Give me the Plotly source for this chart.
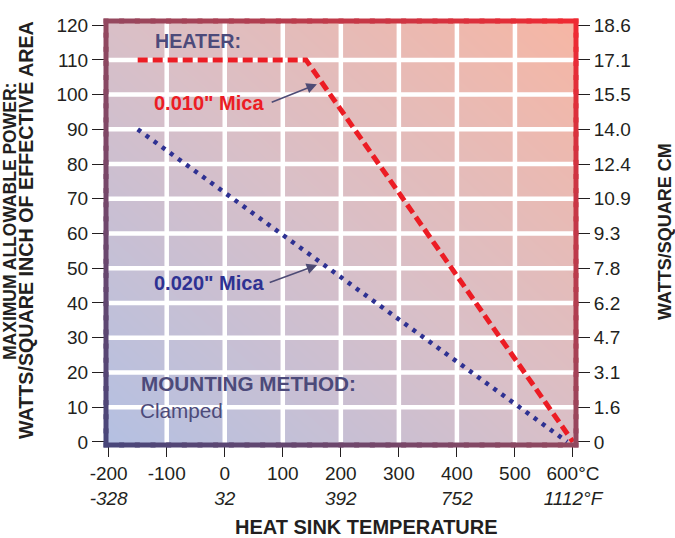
import plotly.graph_objects as go

# ---- data ----
temp_c_ticks = [-200, -100, 0, 100, 200, 300, 400, 500, 600]
temp_c_labels = ["-200", "-100", "0", "100", "200", "300", "400", "500", "600°C"]
temp_f_labels = {-200: "-328", 0: "32", 200: "392", 400: "752", 600: "1112°F"}
power_in_ticks = [0, 10, 20, 30, 40, 50, 60, 70, 80, 90, 100, 110, 120]
power_cm_labels = ["0", "1.6", "3.1", "4.7", "6.2", "7.8", "9.3", "10.9",
                   "12.4", "14.0", "15.5", "17.1", "18.6"]
grid_x = [-100, 0, 100, 200, 300, 400, 500]
grid_y = [10, 20, 30, 40, 50, 60, 70, 80, 90, 100, 110]

mica010_x = [-150, 140, 600]
mica010_y = [110, 110, 0]
mica020_x = [-150, 590]
mica020_y = [90, 0]

# ---- layout constants (screen pixels) ----
W, H = 675, 538
PL, PR, PT, PB = 106, 576, 21, 445          # plot area
ML, MT, MR, MB = PL, PT, W - PR, H - PB
PW, PH = PR - PL, PB - PT
X_RANGE = [-204.6, 605.2]
Y_RANGE = [-0.9, 121.2]
FONT = "Liberation Sans, Arial, Helvetica, sans-serif"
TXT = "#231f20"
SLATE = "#4c4a7a"
RED = "#ec1c24"
BLUE = "#2e3192"


def px(sx):
    return (sx - PL) / PW


def py(sy):
    return (PB - sy) / PH


def hex2rgb(h):
    h = h.lstrip("#")
    return [int(h[i:i + 2], 16) for i in (0, 2, 4)]


def mix(stops, t):
    t = max(0.0, min(1.0, t))
    for i in range(len(stops) - 1):
        t0, c0 = stops[i]
        t1, c1 = stops[i + 1]
        if t <= t1:
            f = (t - t0) / (t1 - t0) if t1 > t0 else 0
            a, b = hex2rgb(c0), hex2rgb(c1)
            return "rgb(%d,%d,%d)" % tuple(round(a[k] + (b[k] - a[k]) * f) for k in range(3))
    return stops[-1][1]


border_stops = [(0, "#48467a"), (0.5, "#93485f"), (1, "#f02a32")]

fig = go.Figure()

# background gradient (bilinear)
fig.add_trace(go.Heatmap(
    x=X_RANGE, y=Y_RANGE, z=[[0, 0.5], [0.5, 1]],
    zsmooth="best", showscale=False, hoverinfo="skip",
    colorscale=[[0, "#b4c0e2"], [0.5, "#d9bfc7"], [1, "#f6b6a4"]],
    zmin=0, zmax=1,
))

# white grid lines
gx, gy = [], []
for v in grid_x:
    gx += [v, v, None]
    gy += [Y_RANGE[0], Y_RANGE[1], None]
for v in grid_y:
    gx += [X_RANGE[0], X_RANGE[1], None]
    gy += [v, v, None]
fig.add_trace(go.Scatter(x=gx, y=gy, mode="lines", line=dict(color="white", width=4.5),
                         hoverinfo="skip", showlegend=False))

# data lines
fig.add_trace(go.Scatter(x=mica020_x, y=mica020_y, mode="lines",
                         line=dict(color=BLUE, width=4.5, dash="4px,6px"),
                         showlegend=False, name='0.020" Mica'))
fig.add_trace(go.Scatter(x=mica010_x, y=mica010_y, mode="lines",
                         line=dict(color=RED, width=5, dash="10px,5px"),
                         showlegend=False, name='0.010" Mica'))

# dummy trace for right axis
fig.add_trace(go.Scatter(x=[None], y=[None], yaxis="y2", showlegend=False, hoverinfo="skip"))

# gradient border built from small rectangles
shapes = []
N = 30
hx, hy = 2.5 / PW, 2.5 / PH
for i in range(N):
    a, b = i / N, (i + 1) / N
    m = (a + b) / 2
    shapes.append(dict(type="rect", xref="paper", yref="paper", x0=a - hx, x1=b + hx, y0=-hy, y1=hy,
                       fillcolor=mix(border_stops, m / 2), line=dict(width=0), layer="above"))
    shapes.append(dict(type="rect", xref="paper", yref="paper", x0=a - hx, x1=b + hx, y0=1 - hy, y1=1 + hy,
                       fillcolor=mix(border_stops, (m + 1) / 2), line=dict(width=0), layer="above"))
    shapes.append(dict(type="rect", xref="paper", yref="paper", x0=-hx, x1=hx, y0=a - hy, y1=b + hy,
                       fillcolor=mix(border_stops, m / 2), line=dict(width=0), layer="above"))
    shapes.append(dict(type="rect", xref="paper", yref="paper", x0=1 - hx, x1=1 + hx, y0=a - hy, y1=b + hy,
                       fillcolor=mix(border_stops, (m + 1) / 2), line=dict(width=0), layer="above"))

x_ticktext = [lab + ("<br><i>%s</i>" % temp_f_labels[v] if v in temp_f_labels else "")
              for v, lab in zip(temp_c_ticks, temp_c_labels)]

annotations = [
    dict(text="<b>HEATER:</b>", x=-123.3, y=115.4, xref="x", yref="y", xanchor="left", yanchor="middle",
         showarrow=False, font=dict(size=19.7, color=SLATE, family=FONT)),
    dict(text='<b>0.010" Mica</b>', x=-125.5, y=97.7, xref="x", yref="y", xanchor="left", yanchor="middle",
         showarrow=False, font=dict(size=20, color=RED, family=FONT)),
    dict(text='<b>0.020" Mica</b>', x=-125.5, y=45.7, xref="x", yref="y", xanchor="left", yanchor="middle",
         showarrow=False, font=dict(size=20, color=BLUE, family=FONT)),
    dict(text="<b>MOUNTING METHOD:</b>", x=-148.6, y=16.9, xref="x", yref="y", xanchor="left",
         yanchor="middle", showarrow=False, font=dict(size=20.7, color=SLATE, family=FONT)),
    dict(text="Clamped", x=-149, y=9.1, xref="x", yref="y", xanchor="left", yanchor="middle",
         showarrow=False, font=dict(size=20.7, color=SLATE, family=FONT)),
    dict(text="", x=158.8, y=103.0, xref="x", yref="y", ax=-46.7, ay=18.7, showarrow=True,
         arrowhead=2, arrowsize=1.4, arrowwidth=1.5, arrowcolor="#4d4b75", standoff=0),
    dict(text="", x=159.3, y=50.9, xref="x", yref="y", ax=-49, ay=18, showarrow=True,
         arrowhead=2, arrowsize=1.4, arrowwidth=1.5, arrowcolor="#4d4b75", standoff=0),
    # axis titles
    dict(text="<b>MAXIMUM ALLOWABLE POWER:</b>", x=px(10), y=py(222), xref="paper", yref="paper",
         textangle=-90, xanchor="center", yanchor="middle", showarrow=False,
         font=dict(size=17.5, color=TXT, family=FONT)),
    dict(text="<b>WATTS/SQUARE INCH OF EFFECTIVE AREA</b>", x=px(26), y=py(230), xref="paper",
         yref="paper", textangle=-90, xanchor="center", yanchor="middle", showarrow=False,
         font=dict(size=19.7, color=TXT, family=FONT)),
    dict(text="<b>WATTS/SQUARE CM</b>", x=px(665), y=py(232), xref="paper", yref="paper",
         textangle=-90, xanchor="center", yanchor="middle", showarrow=False,
         font=dict(size=18, color=TXT, family=FONT)),
    dict(text="<b>HEAT SINK TEMPERATURE</b>", x=px(233), y=py(527), xref="paper",
         yref="paper", xanchor="left", yanchor="middle", showarrow=False,
         font=dict(size=20, color=TXT, family=FONT)),
]

tickfont = dict(size=19, color=TXT, family=FONT)
fig.update_layout(
    width=W, height=H, margin=dict(l=ML, r=MR, t=MT, b=MB, autoexpand=False),
    paper_bgcolor="white", plot_bgcolor="white",
    showlegend=False,
    shapes=shapes, annotations=annotations,
    xaxis=dict(range=X_RANGE, tickvals=temp_c_ticks, ticktext=x_ticktext, showgrid=False,
               zeroline=False, showline=False, ticks="outside", ticklen=11, tickwidth=1.3,
               tickcolor=TXT, tickfont=tickfont, fixedrange=True),
    yaxis=dict(range=Y_RANGE, tickvals=power_in_ticks, showgrid=False, zeroline=False,
               showline=False, ticks="outside", ticklen=13, tickwidth=1.3, tickcolor=TXT,
               tickfont=tickfont, fixedrange=True),
    yaxis2=dict(range=Y_RANGE, overlaying="y", side="right", tickvals=power_in_ticks,
                ticktext=power_cm_labels, showgrid=False, zeroline=False, showline=False,
                ticks="outside", ticklen=13, tickwidth=1.3, tickcolor=TXT, tickfont=tickfont,
                fixedrange=True),
)

fig.write_html("out.html", config={"displayModeBar": False},
               post_script="document.body.style.margin='0';document.body.style.overflow='hidden';")
